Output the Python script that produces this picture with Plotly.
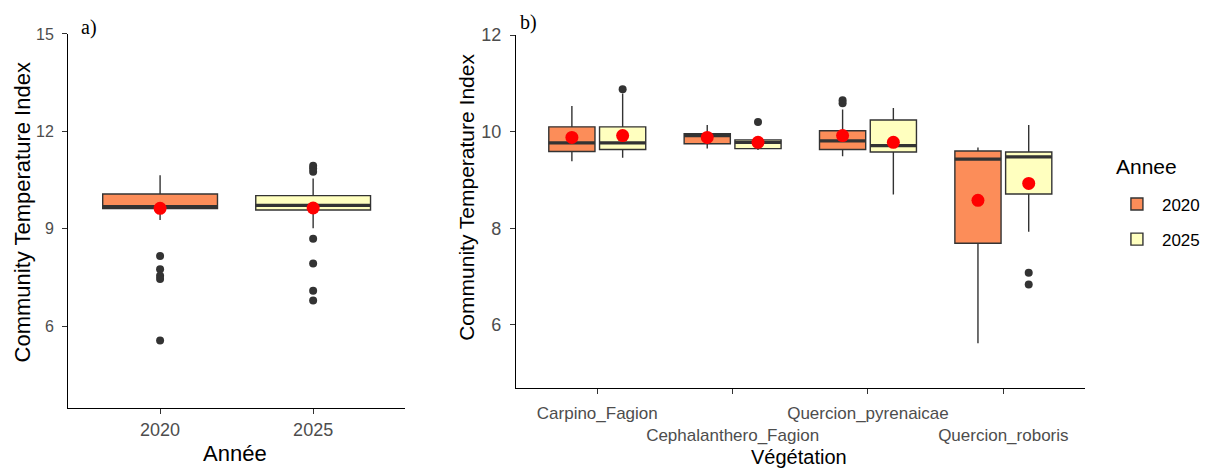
import plotly.graph_objects as go

# ---------------- data ----------------
# Panel a: CTI by year
years = ["2020", "2025"]
a_q1 = [9.62, 9.58]
a_median = [9.68, 9.72]
a_q3 = [10.07, 10.02]
a_lower = [9.27, 9.02]
a_upper = [10.65, 10.55]
a_mean = [9.63, 9.64]
a_out_2020 = [8.16, 7.75, 7.55, 7.45, 5.56]
a_out_2025 = [10.94, 10.86, 10.76, 8.69, 7.93, 7.09, 6.79]

# Panel b: CTI by vegetation and year
vegetation = ["Carpino_Fagion", "Cephalanthero_Fagion", "Quercion_pyrenaicae", "Quercion_roboris"]
veg_ticktext = ["Carpino_Fagion", "<br>Cephalanthero_Fagion", "Quercion_pyrenaicae", "<br>Quercion_roboris"]

b2020_q1 = [9.59, 9.75, 9.63, 7.69]
b2020_median = [9.77, 9.92, 9.81, 9.43]
b2020_q3 = [10.10, 9.96, 10.02, 9.60]
b2020_lower = [9.39, 9.65, 9.49, 5.62]
b2020_upper = [10.53, 10.14, 10.46, 9.67]
b2020_mean = [9.88, 9.88, 9.92, 8.58]
b2020_out_x = ["Quercion_pyrenaicae", "Quercion_pyrenaicae"]
b2020_out_y = [10.65, 10.59]

b2025_q1 = [9.63, 9.65, 9.58, 8.71]
b2025_median = [9.77, 9.78, 9.71, 9.48]
b2025_q3 = [10.10, 9.83, 10.24, 9.58]
b2025_lower = [9.46, 9.62, 8.70, 7.93]
b2025_upper = [10.79, 9.86, 10.49, 10.14]
b2025_mean = [9.92, 9.78, 9.78, 8.93]
b2025_out_x = ["Carpino_Fagion", "Cephalanthero_Fagion", "Quercion_roboris", "Quercion_roboris"]
b2025_out_y = [10.88, 10.20, 7.08, 6.84]

# ---------------- style ----------------
FILL = {"2020": "#FC8D59", "2025": "#FFFFBF"}
LINE = "#333333"
MEAN_RED = "#FF0000"
FONT = "Liberation Sans"

fig = go.Figure()

# ---- panel a boxes ----
a_out = {"2020": a_out_2020, "2025": a_out_2025}
for i, yr in enumerate(years):
    fig.add_trace(go.Box(
        x=[yr], q1=[a_q1[i]], median=[a_median[i]], q3=[a_q3[i]],
        lowerfence=[a_lower[i]], upperfence=[a_upper[i]],
        fillcolor=FILL[yr], line=dict(color=LINE, width=1.4), whiskerwidth=0,
        width=0.75, offsetgroup="a", alignmentgroup="a",
        xaxis="x", yaxis="y", showlegend=False, name=yr, legendgroup=yr))
    # thick median line (ggplot style)
    fig.add_trace(go.Box(
        x=[yr], q1=[a_median[i]], median=[a_median[i]], q3=[a_median[i]],
        lowerfence=[a_median[i]], upperfence=[a_median[i]],
        fillcolor="rgba(0,0,0,0)", line=dict(color=LINE, width=3.2), whiskerwidth=0,
        width=0.75, offsetgroup="a", alignmentgroup="a",
        xaxis="x", yaxis="y", showlegend=False, hoverinfo="skip"))
    fig.add_trace(go.Scatter(
        x=[yr] * len(a_out[yr]), y=a_out[yr], mode="markers",
        marker=dict(color=LINE, size=8), offsetgroup="sa", alignmentgroup="sa",
        xaxis="x", yaxis="y", showlegend=False))

fig.add_trace(go.Scatter(
    x=years, y=a_mean, mode="markers", marker=dict(color=MEAN_RED, size=13),
    offsetgroup="sa", alignmentgroup="sa", xaxis="x", yaxis="y", showlegend=False))

# ---- panel b boxes ----
b_stats = {
    "2020": (b2020_q1, b2020_median, b2020_q3, b2020_lower, b2020_upper, b2020_mean, b2020_out_x, b2020_out_y),
    "2025": (b2025_q1, b2025_median, b2025_q3, b2025_lower, b2025_upper, b2025_mean, b2025_out_x, b2025_out_y),
}
for yr in years:
    q1, med, q3, lo, up, mn, ox, oy = b_stats[yr]
    fig.add_trace(go.Box(
        x=vegetation, q1=q1, median=med, q3=q3, lowerfence=lo, upperfence=up,
        fillcolor=FILL[yr], line=dict(color=LINE, width=1.4), whiskerwidth=0,
        offsetgroup="b" + yr, alignmentgroup="b",
        xaxis="x2", yaxis="y2", name=yr, legendgroup=yr, showlegend=True))
    fig.add_trace(go.Box(
        x=vegetation, q1=med, median=med, q3=med, lowerfence=med, upperfence=med,
        fillcolor="rgba(0,0,0,0)", line=dict(color=LINE, width=3.2), whiskerwidth=0,
        offsetgroup="b" + yr, alignmentgroup="b",
        xaxis="x2", yaxis="y2", showlegend=False, hoverinfo="skip"))
    fig.add_trace(go.Scatter(
        x=ox, y=oy, mode="markers", marker=dict(color=LINE, size=8),
        offsetgroup="sb" + yr, alignmentgroup="sb",
        xaxis="x2", yaxis="y2", showlegend=False))
    fig.add_trace(go.Scatter(
        x=vegetation, y=mn, mode="markers", marker=dict(color=MEAN_RED, size=13),
        offsetgroup="sb" + yr, alignmentgroup="sb",
        xaxis="x2", yaxis="y2", showlegend=False))

axis_common = dict(
    showline=True, linecolor="black", linewidth=1.3, mirror=False,
    ticks="outside", ticklen=5, tickwidth=1.2, tickcolor=LINE,
    showgrid=False, zeroline=False, automargin=False, tickangle=0,
)

fig.update_layout(
    width=1206, height=468,
    margin=dict(l=0, r=0, t=0, b=0, autoexpand=False),
    paper_bgcolor="white", plot_bgcolor="white",
    font=dict(family=FONT, color="black"),
    boxmode="group", boxgap=0.25, boxgroupgap=0.09,
    scattermode="group", scattergap=0.25,
    xaxis=dict(
        domain=[0.0566, 0.3358], type="category",
        categoryorder="array", categoryarray=years,
        range=[-0.6, 1.6], anchor="y",
        tickfont=dict(size=18, color="#4D4D4D"), ticklabelstandoff=0,
        **axis_common),
    yaxis=dict(
        domain=[0.1282, 0.9274], range=[3.48, 15], anchor="x",
        tickvals=[6, 9, 12, 15],
        tickfont=dict(size=16, color="#4D4D4D"), ticklabelstandoff=5,
        **axis_common),
    xaxis2=dict(
        domain=[0.4279, 0.8993], type="category",
        categoryorder="array", categoryarray=vegetation,
        tickvals=vegetation, ticktext=veg_ticktext,
        range=[-0.6, 3.6], anchor="y2",
        tickfont=dict(size=17, color="#4D4D4D"), ticklabelstandoff=4,
        **axis_common),
    yaxis2=dict(
        domain=[0.1703, 0.9252], range=[4.69, 12], anchor="x2",
        tickvals=[6, 8, 10, 12],
        tickfont=dict(size=18, color="#4D4D4D"), ticklabelstandoff=5,
        **axis_common),
    legend=dict(
        font=dict(size=17, color="black"),
        x=0.922, y=0.6015, xanchor="left", yanchor="top",
        traceorder="grouped", tracegroupgap=10, itemwidth=40,
        bgcolor="rgba(0,0,0,0)",
    ),
    annotations=[
        dict(text="Annee", x=1146 / 1206, y=1 - 166 / 468,
             xref="paper", yref="paper", showarrow=False,
             xanchor="center", yanchor="middle", font=dict(size=21, color="black")),
        dict(text="Community Temperature Index", x=22 / 1206, y=0.546,
             xref="paper", yref="paper", textangle=-90, showarrow=False,
             xanchor="center", yanchor="middle", font=dict(size=22, color="black")),
        dict(text="Community Temperature Index", x=466.5 / 1206, y=0.5784,
             xref="paper", yref="paper", textangle=-90, showarrow=False,
             xanchor="center", yanchor="middle", font=dict(size=21, color="black")),
        dict(text="Année", x=235 / 1206, y=0.0314, xref="paper", yref="paper",
             showarrow=False, xanchor="center", yanchor="middle",
             font=dict(size=22, color="black")),
        dict(text="Végétation", x=799 / 1206, y=1 - 456.5 / 468, xref="paper", yref="paper",
             showarrow=False, xanchor="center", yanchor="middle",
             font=dict(size=20, color="black")),
        dict(text="a)", x=89 / 1206, y=0.9423, xref="paper", yref="paper",
             showarrow=False, xanchor="center", yanchor="middle",
             font=dict(size=20, color="black", family="Liberation Serif")),
        dict(text="b)", x=528 / 1206, y=0.9509, xref="paper", yref="paper",
             showarrow=False, xanchor="center", yanchor="middle",
             font=dict(size=20, color="black", family="Liberation Serif")),
    ],
)

fig.write_html("out.html")
